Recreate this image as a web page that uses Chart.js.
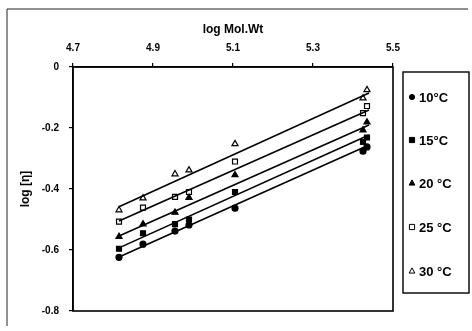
<!DOCTYPE html>
<html>
<head>
<meta charset="utf-8">
<script src="https://cdn.jsdelivr.net/npm/chart.js@4/dist/chart.umd.min.js"></script>
<style>
  html, body { margin: 0; padding: 0; background: #fff; }
  #wrap { width: 472px; height: 331px; position: relative; }
</style>
</head>
<body>
<div id="wrap"><canvas id="grafico"></canvas></div>
<script>
// Valores
const logMolWt = [4.815, 4.875, 4.955, 4.99, 5.105, 5.425, 5.435];
const serie10 = [-0.624, -0.581, -0.538, -0.518, -0.463, -0.276, -0.262];
const serie15 = [-0.596, -0.545, -0.515, -0.500, -0.410, -0.246, -0.231];
const serie20 = [-0.556, -0.515, -0.477, -0.428, -0.354, -0.207, -0.181];
const serie25 = [-0.507, -0.461, -0.426, -0.410, -0.310, -0.151, -0.128];
const serie30 = [-0.469, -0.430, -0.351, -0.338, -0.252, -0.102, -0.075];

// Linhas de tendência (extremos)
const linhaX = [4.815, 5.44];
const linha10 = [-0.623, -0.256];
const linha15 = [-0.593, -0.223];
const linha20 = [-0.554, -0.190];
const linha25 = [-0.505, -0.141];
const linha30 = [-0.458, -0.085];

const rotulos = ['10°C', '15°C', '20 °C', '25 °C', '30 °C'];
const xTicks = [4.7, 4.9, 5.1, 5.3, 5.5];
const yTicks = [0, -0.2, -0.4, -0.6, -0.8];

const fonte = "'Liberation Sans', Arial, sans-serif";

function pontos(xs, ys) {
    return xs.map((x, i) => ({ x: x, y: ys[i] }));
}

// Estilo de cada série
const estilos = [
    { pointStyle: 'circle', fill: '#000', radius: 3 },
    { pointStyle: 'rect', fill: '#000', radius: 3.5 },
    { pointStyle: 'triangle', fill: '#000', radius: 3.5 },
    { pointStyle: 'rect', fill: '#fff', radius: 3.5 },
    { pointStyle: 'triangle', fill: '#fff', radius: 3.5 }
];

const series = [serie10, serie15, serie20, serie25, serie30];
const linhas = [linha10, linha15, linha20, linha25, linha30];

const datasets = [];
linhas.forEach((l) => {
    datasets.push({
        label: '',
        data: pontos(linhaX, l),
        showLine: true,
        borderColor: '#000',
        borderWidth: 1.6,
        pointRadius: 0,
        legenda: false
    });
});
series.forEach((s, i) => {
    datasets.push({
        label: rotulos[i],
        data: pontos(logMolWt, s),
        showLine: false,
        pointStyle: estilos[i].pointStyle,
        pointRadius: estilos[i].radius,
        pointBackgroundColor: estilos[i].fill,
        pointBorderColor: '#000',
        pointBorderWidth: 1.2,
        legenda: true
    });
});

function drawMarker(ctx, estilo, x, y, r, cor) {
    ctx.save();
    ctx.fillStyle = cor;
    ctx.strokeStyle = '#000';
    ctx.lineWidth = 1;
    ctx.beginPath();
    if (estilo === 'circle') {
        ctx.arc(x, y, r, 0, Math.PI * 2);
    } else if (estilo === 'rect') {
        ctx.rect(x - r, y - r, r * 2, r * 2);
    } else {
        ctx.moveTo(x, y - r * 1.2);
        ctx.lineTo(x + r * 1.1, y + r * 0.8);
        ctx.lineTo(x - r * 1.1, y + r * 0.8);
        ctx.closePath();
    }
    ctx.fill();
    ctx.stroke();
    ctx.restore();
}

// Moldura da área do gráfico, borda externa e legenda
const molduraPlugin = {
    id: 'moldura',
    afterDraw(chart) {
        const ctx = chart.ctx;
        const a = chart.chartArea;
        ctx.save();
        ctx.strokeStyle = '#000';
        ctx.lineWidth = 1.6;
        ctx.strokeRect(a.left, a.top, a.right - a.left, a.bottom - a.top);

        // borda externa (esquerda e topo)
        ctx.strokeStyle = '#222';
        ctx.lineWidth = 1;
        ctx.beginPath();
        ctx.moveTo(7, 326);
        ctx.lineTo(7, 9);
        ctx.lineTo(468, 9);
        ctx.stroke();

        // caixa da legenda
        ctx.strokeStyle = '#000';
        ctx.lineWidth = 1.4;
        ctx.strokeRect(403, 72, 66, 221);

        ctx.font = 'bold 13px ' + fonte;
        ctx.textBaseline = 'middle';
        const ys = [97, 140, 183, 227, 271];
        const itens = chart.data.datasets.filter(d => d.legenda);
        itens.forEach((d, i) => {
            const y = ys[i];
            drawMarker(ctx, d.pointStyle, 412, y, 2.6, d.pointBackgroundColor);
            ctx.fillStyle = '#000';
            ctx.fillText(d.label, 419, y + 1);
        });
        ctx.restore();
    }
};

new Chart(document.getElementById('grafico').getContext('2d'), {
    type: 'scatter',
    data: { datasets: datasets },
    plugins: [molduraPlugin],
    options: {
        responsive: true,
        maintainAspectRatio: false,
        animation: false,
        layout: { padding: { left: 0, right: 79, top: 0, bottom: 20 } },
        plugins: {
            legend: { display: false },
            tooltip: { enabled: false }
        },
        scales: {
            x: {
                type: 'linear',
                position: 'top',
                min: 4.7,
                max: 5.5,
                afterBuildTicks: (scale) => { scale.ticks = xTicks.map(v => ({ value: v })); },
                afterFit: (scale) => { scale.height = 67; },
                grid: { drawOnChartArea: false, drawTicks: true, tickLength: 4, color: '#000', lineWidth: 1.2 },
                border: { display: true, color: '#000', width: 1.6 },
                ticks: {
                    color: '#000',
                    padding: 9,
                    font: { family: fonte, size: 10, weight: 'bold' },
                    callback: (v) => Number(v).toFixed(1)
                },
                title: {
                    display: true,
                    text: 'log Mol.Wt',
                    color: '#000',
                    font: { family: fonte, size: 12, weight: 'bold' },
                    padding: { top: 22, bottom: 0 }
                }
            },
            y: {
                type: 'linear',
                min: -0.8,
                max: 0,
                afterBuildTicks: (scale) => { scale.ticks = yTicks.map(v => ({ value: v })); },
                afterFit: (scale) => { scale.width = 73; },
                grid: { drawOnChartArea: false, drawTicks: true, tickLength: 4, color: '#000', lineWidth: 1.2 },
                border: { display: true, color: '#000', width: 1.6 },
                ticks: {
                    color: '#000',
                    padding: 10,
                    font: { family: fonte, size: 10, weight: 'bold' },
                    callback: (v) => v === 0 ? '0' : Number(v).toFixed(1)
                },
                title: {
                    display: true,
                    text: 'log [η]',
                    color: '#000',
                    font: { family: fonte, size: 12, weight: 'bold' },
                    padding: { top: 18, bottom: 0 }
                }
            }
        }
    }
});
</script>
</body>
</html>
